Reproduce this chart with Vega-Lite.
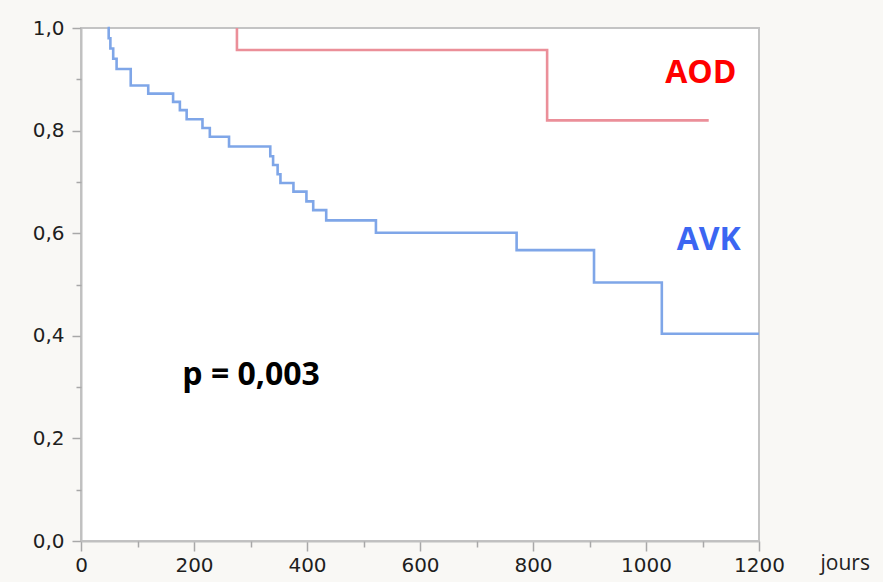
{
  "$schema": "https://vega.github.io/schema/vega-lite/v6.json",
  "autosize": "none",
  "width": 678,
  "height": 513,
  "padding": {"left": 81, "top": 28, "right": 124, "bottom": 41},
  "background": "#f9f8f5",
  "config": {
    "view": {"fill": "#ffffff", "stroke": "#c4c4c4", "strokeWidth": 2},
    "axis": {"grid": false}
  },
  "datasets": {
    "curves": [
      {"group": "AOD", "ord": 1, "day": 276, "surv": 1.0},
      {"group": "AOD", "ord": 2, "day": 276, "surv": 0.957},
      {"group": "AOD", "ord": 3, "day": 825, "surv": 0.82},
      {"group": "AOD", "ord": 4, "day": 1111, "surv": 0.82},
      {"group": "AVK", "ord": 1, "day": 47, "surv": 1.0},
      {"group": "AVK", "ord": 2, "day": 49, "surv": 0.98},
      {"group": "AVK", "ord": 3, "day": 52, "surv": 0.96},
      {"group": "AVK", "ord": 4, "day": 57, "surv": 0.94},
      {"group": "AVK", "ord": 5, "day": 63, "surv": 0.92},
      {"group": "AVK", "ord": 6, "day": 88, "surv": 0.888},
      {"group": "AVK", "ord": 7, "day": 119, "surv": 0.872},
      {"group": "AVK", "ord": 8, "day": 163, "surv": 0.856},
      {"group": "AVK", "ord": 9, "day": 175, "surv": 0.84},
      {"group": "AVK", "ord": 10, "day": 187, "surv": 0.822},
      {"group": "AVK", "ord": 11, "day": 215, "surv": 0.805},
      {"group": "AVK", "ord": 12, "day": 228, "surv": 0.788},
      {"group": "AVK", "ord": 13, "day": 262, "surv": 0.769},
      {"group": "AVK", "ord": 14, "day": 335, "surv": 0.75},
      {"group": "AVK", "ord": 15, "day": 340, "surv": 0.733},
      {"group": "AVK", "ord": 16, "day": 348, "surv": 0.715},
      {"group": "AVK", "ord": 17, "day": 353, "surv": 0.698},
      {"group": "AVK", "ord": 18, "day": 376, "surv": 0.681},
      {"group": "AVK", "ord": 19, "day": 399, "surv": 0.662},
      {"group": "AVK", "ord": 20, "day": 411, "surv": 0.645},
      {"group": "AVK", "ord": 21, "day": 434, "surv": 0.625},
      {"group": "AVK", "ord": 22, "day": 522, "surv": 0.601},
      {"group": "AVK", "ord": 23, "day": 771, "surv": 0.567},
      {"group": "AVK", "ord": 24, "day": 908, "surv": 0.504},
      {"group": "AVK", "ord": 25, "day": 1028, "surv": 0.404},
      {"group": "AVK", "ord": 26, "day": 1200, "surv": 0.404}
    ],
    "labels": [
      {"label": "AOD", "day": 1097, "surv": 0.912},
      {"label": "AVK", "day": 1111, "surv": 0.587},
      {"label": "p = 0,003", "day": 301, "surv": 0.323}
    ]
  },
  "layer": [
    {
      "data": {"name": "curves"},
      "mark": {"type": "line", "interpolate": "step-after", "strokeWidth": 2.6, "clip": false},
      "encoding": {
        "x": {
          "field": "day", "type": "quantitative",
          "scale": {"domain": [0, 1200], "nice": false, "zero": false},
          "axis": {
            "orient": "bottom",
            "values": [0, 200, 400, 600, 800, 1000, 1200],
            "format": "d",
            "title": "jours",
            "titleFont": "Open Sans",
            "titleFontSize": 21,
            "titleFontWeight": "normal",
            "titleColor": "#222222",
            "titleX": 739,
            "titleY": 22,
            "titleAlign": "left",
            "titleBaseline": "middle",
            "titleAngle": 0,
            "labelFont": "DejaVu Sans",
            "labelFontSize": 20,
            "labelColor": "#1e1e1e",
            "labelPadding": 4,
            "labelFlush": false,
            "labelOverlap": false,
            "tickSize": 10,
            "tickWidth": 1.5,
            "tickColor": "#a8a8a8",
            "domainColor": "#c0c0c0",
            "domainWidth": 2
          }
        },
        "y": {
          "field": "surv", "type": "quantitative",
          "scale": {"domain": [0, 1], "nice": false, "zero": true},
          "axis": {
            "orient": "left",
            "values": [0, 0.2, 0.4, 0.6, 0.8, 1.0],
            "labelExpr": "replace(format(datum.value, '.1f'), '.', ',')",
            "title": null,
            "labelFont": "DejaVu Sans",
            "labelFontSize": 20,
            "labelColor": "#1e1e1e",
            "labelPadding": 8,
            "labelFlush": false,
            "labelOverlap": false,
            "tickSize": 9,
            "tickWidth": 1.5,
            "tickColor": "#a8a8a8",
            "domainColor": "#c0c0c0",
            "domainWidth": 2
          }
        },
        "color": {
          "field": "group", "type": "nominal",
          "scale": {"domain": ["AOD", "AVK"], "range": ["#eb8f99", "#7fa6e8"]},
          "legend": null
        },
        "order": {"field": "ord", "type": "quantitative"}
      }
    },
    {
      "data": {"name": "labels"},
      "mark": {"type": "text", "font": "Open Sans", "fontWeight": "bold", "fontSize": 32, "align": "center", "baseline": "middle"},
      "encoding": {
        "x": {
          "field": "day", "type": "quantitative",
          "axis": {
            "orient": "bottom",
            "values": [100, 300, 500, 700, 900, 1100],
            "labels": false,
            "domain": false,
            "title": null,
            "tickSize": 6,
            "tickWidth": 1.5,
            "tickColor": "#a8a8a8"
          }
        },
        "y": {
          "field": "surv", "type": "quantitative",
          "axis": {
            "orient": "left",
            "values": [0.1, 0.3, 0.5, 0.7, 0.9],
            "labels": false,
            "domain": false,
            "title": null,
            "tickSize": 5,
            "tickWidth": 1.5,
            "tickColor": "#a8a8a8"
          }
        },
        "text": {"field": "label", "type": "nominal"},
        "color": {
          "field": "label", "type": "nominal",
          "scale": {"domain": ["AOD", "AVK", "p = 0,003"], "range": ["#ff0000", "#3b66f2", "#000000"]},
          "legend": null
        }
      }
    }
  ],
  "resolve": {
    "scale": {"color": "independent"},
    "axis": {"x": "independent", "y": "independent"}
  }
}
